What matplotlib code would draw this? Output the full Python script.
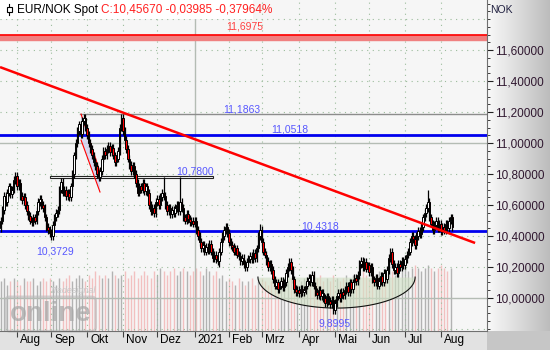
import numpy as np
import pandas as pd
import matplotlib
matplotlib.use("Agg")
import matplotlib.pyplot as plt
from matplotlib.patches import Rectangle
from matplotlib.transforms import blended_transform_factory, ScaledTranslation

plt.rcParams["font.family"] = ["Liberation Sans", "DejaVu Sans"]

# daily closes EUR/NOK
closes = [
    10.50, 10.57, 10.66, 10.62, 10.68, 10.72, 10.67,
    10.70, 10.76, 10.79, 10.72, 10.74,
    10.66, 10.63, 10.65, 10.60,
    10.56, 10.53, 10.50, 10.49, 10.52, 10.50,
    10.56, 10.62, 10.64, 10.60,
    10.58, 10.52, 10.46, 10.44,
    10.42, 10.40,
    10.47, 10.52, 10.55, 10.57,
    10.70, 10.75,
    10.68, 10.70, 10.66, 10.68, 10.65,
    10.72, 10.80, 10.92, 11.00,
    11.08, 11.12, 11.06,
    11.14, 11.16, 11.10,
    11.05, 11.00, 10.96, 10.92, 10.88, 10.85,
    10.80, 10.78, 10.82,
    10.90, 10.95, 10.92,
    10.96, 10.98, 10.94, 10.97,
    10.92, 10.88, 10.90, 10.95,
    11.10, 11.16,
    11.08, 11.02, 10.96, 10.90,
    10.86, 10.82, 10.85, 10.80,
    10.74, 10.68, 10.72,
    10.70, 10.74, 10.69, 10.72, 10.68,
    10.60, 10.56, 10.58, 10.55,
    10.62, 10.64, 10.60,
    10.65, 10.68, 10.66,
    10.60, 10.56, 10.58, 10.54, 10.57, 10.55,
    10.58, 10.60, 10.56, 10.62, 10.58,
    10.52, 10.50, 10.54, 10.51, 10.49,
    10.50, 10.48, 10.50,
    10.44, 10.40,
    10.36, 10.32, 10.34, 10.30, 10.33, 10.31,
    10.35, 10.30, 10.26, 10.28, 10.25,
    10.24, 10.30,
    10.36, 10.40, 10.44, 10.46,
    10.42, 10.36, 10.34,
    10.33, 10.30, 10.32, 10.28,
    10.27, 10.24, 10.26, 10.22,
    10.20, 10.23, 10.25,
    10.27, 10.25, 10.29, 10.26,
    10.32, 10.40, 10.44,
    10.36, 10.30, 10.28,
    10.24, 10.20, 10.22, 10.18,
    10.12, 10.08, 10.10, 10.06,
    10.08, 10.11, 10.07, 10.10,
    10.16, 10.20, 10.23, 10.18,
    10.12, 10.06, 10.04, 10.05,
    10.03, 10.06, 10.04, 10.05,
    10.08, 10.11, 10.13, 10.10, 10.15,
    10.08, 10.04, 10.02, 10.05, 10.01, 10.03,
    10.00, 9.97, 10.01, 9.98, 9.96, 9.99,
    9.92, 9.97,
    10.01, 10.03, 10.00, 10.04, 10.02, 10.05,
    10.08, 10.04, 10.10, 10.06,
    10.10, 10.13, 10.11, 10.15,
    10.22, 10.24, 10.20, 10.23,
    10.19, 10.21, 10.17, 10.20,
    10.12, 10.10, 10.13, 10.08, 10.11,
    10.14, 10.10, 10.16, 10.12, 10.18,
    10.26, 10.30,
    10.22, 10.18, 10.20, 10.16,
    10.22, 10.20, 10.24, 10.21,
    10.25, 10.28, 10.30,
    10.36, 10.40, 10.38,
    10.34, 10.40, 10.43, 10.41,
    10.46, 10.52, 10.55, 10.58,
    10.62,
    10.52, 10.48, 10.44, 10.47,
    10.50, 10.45, 10.48, 10.43, 10.46, 10.44,
    10.48, 10.45, 10.50, 10.52, 10.4567,
]
first_open = 10.45
wick = 0.025
# notable highs / lows visible as long wicks
high_marks = {9: 10.81, 51: 11.1863, 74: 11.19, 100: 10.78, 110: 10.78, 159: 10.48, 262: 10.70}
low_marks = {31: 10.3729, 134: 10.20, 204: 9.8995}

# volume (every second session, % of panel height)
volume = [
    15, 16, 14, 15, 16, 15, 14, 16, 15, 15, 16, 14, 15, 16, 15, 16, 15, 14, 16, 15,
    16, 17, 15, 16, 17, 16, 15, 17, 16, 18, 17, 16, 17, 16, 18, 17, 16, 17, 18, 16,
    17, 18, 16, 17, 18, 17, 16, 18, 17, 19, 18, 17, 18, 19, 17, 18, 19, 18, 17, 18,
    19, 18, 17, 19, 18, 17, 18, 16, 17, 15, 16, 15, 14, 16, 15, 14, 15, 16, 14, 15,
    16, 15, 14, 15, 16, 15, 14, 16, 15, 16, 15, 14, 15, 16, 15, 16, 15, 16, 17, 15,
    16, 15, 17, 16, 15, 16, 17, 16, 17, 16, 17, 18, 17, 16, 18, 17, 18, 17, 18, 19,
    18, 17, 19, 18, 19, 18, 19, 20, 19, 18, 19, 20, 19, 18, 19, 20, 19, 18, 19,
]

resist_top, resist_bottom = 11.6975, 11.665
gray_level = 11.1863
blue_levels = [11.0518, 10.4318]
box_level = 10.78
box_range = (30.3, 130.3)
trend_x = [-0.4, 291.0]
trend_y = [11.49, 10.355]
fan_x = [49.3, 60.9]
fan_upper = [11.187, 10.813]
fan_lower = [11.019, 10.684]
saucer_center, saucer_halfwidth = 206.0, 48.2
saucer_top, saucer_depth = 10.135, 0.20
price_labels = [10.0, 10.2, 10.4, 10.6, 10.8, 11.0, 11.2, 11.4, 11.6]

n = len(closes)
dates = pd.bdate_range("2020-07-20", periods=n)
opens = [first_open] + closes[:-1]
x = np.arange(n)

fig = plt.figure(figsize=(5.5, 3.5), dpi=100, facecolor="#e2e2e2")
ax = fig.add_axes([0, 19 / 350, 487 / 550, 331 / 350])
ax.set_xlim(-0.43, 298.3)
ax.set_ylim(9.787, 11.923)

# right price panel with gradient
pan = fig.add_axes([487 / 550, 19 / 350, 63 / 550, 331 / 350])
grad = np.linspace(0.98, 0.74, 100)[None, :]
pan.imshow(np.dstack([grad, grad, grad]), aspect="auto", extent=[0, 1, 0, 1])
pan.set_xlim(0, 1)
pan.set_ylim(0, 1)
pan.set_axis_off()
corner = fig.add_axes([487 / 550, 0, 63 / 550, 19 / 350])
corner.set_facecolor("#c6c6c6")
corner.set_xticks([])
corner.set_yticks([])
for s in corner.spines.values():
    s.set_visible(False)

# grid
for lv in np.arange(9.8, 11.95, 0.2):
    if abs(lv - 10.0) < 1e-6 or abs(lv - 11.0) < 1e-6:
        ax.axhline(lv, color="#b4bcb4", lw=1.0, zorder=0)
    else:
        ax.axhline(lv, color="#9cbc9c", lw=0.8, ls=(0, (1, 4)), zorder=0)
month_names = {8: "Aug", 9: "Sep", 10: "Okt", 11: "Nov", 12: "Dez", 1: "2021", 2: "Feb",
               3: "Mrz", 4: "Apr", 5: "Mai", 6: "Jun", 7: "Jul"}
month_pos = []
month_lab = []
for i in range(1, n):
    if dates[i].month != dates[i - 1].month:
        month_pos.append(i)
        month_lab.append(month_names[dates[i].month])
for p, lab in zip(month_pos, month_lab):
    if lab == "2021":
        ax.axvline(p, color="#b4bcb4", lw=1.0, zorder=0)
    else:
        ax.axvline(p, color="#9cbc9c", lw=0.8, ls=(0, (1, 4)), zorder=0)

# volume
vax = ax.twinx()
vax.set_ylim(0, 100)
vax.set_axis_off()
vx = x[::2][:len(volume)]
vcol = ["#b2b2b2" if closes[i] >= opens[i] else "#f2c0c0" for i in vx]
vax.vlines(vx, 0, volume, colors=vcol, lw=1.0, zorder=1)
vax.set_zorder(0)
ax.set_zorder(1)
ax.patch.set_visible(False)
fig.patches.append(Rectangle((0, 19 / 350), 487 / 550, 331 / 350, transform=fig.transFigure,
                             facecolor="#f6f6f6", edgecolor="none", zorder=-5))

# watermark
ax.text(0.1, 0.115, "Tradesignal", transform=ax.transAxes, fontsize=6.5, color="#c8c8c8",
        fontstyle="italic", zorder=2)
ax.text(0.02, 0.03, "online", transform=ax.transAxes, fontsize=20, color="#a8a8a8",
        fontweight="bold", alpha=0.75, zorder=2,
        bbox=dict(boxstyle="round,pad=0.15", fc="none", ec="#b8b8b8", lw=2, alpha=0.6))

# saucer
t = np.linspace(0, np.pi, 100)
sx = saucer_center - saucer_halfwidth * np.cos(t)
sy = saucer_top - saucer_depth * np.sin(t)
ax.fill_between(sx, sy, saucer_top, color="#cfe0c4", alpha=0.6, lw=0, zorder=2)
ax.plot(sx, sy, color="#111111", lw=0.8, zorder=2)

# fan
ax.fill([fan_x[0], fan_x[1], fan_x[1], fan_x[0]],
        [fan_upper[0], fan_upper[1], fan_lower[1], fan_lower[0]],
        color="#d0d0f0", alpha=0.8, lw=0, zorder=2)
ax.plot(fan_x, fan_upper, color="#ff0000", lw=0.8, zorder=4)
ax.plot(fan_x, fan_lower, color="#ff0000", lw=0.8, zorder=4)

# levels
ax.fill_between([-1, 300], resist_bottom, resist_top, color="#f08080", zorder=2)
ax.axhline(resist_top, color="#ff0000", lw=1.2, zorder=3)
ax.plot([48.7, 300], [gray_level] * 2, color="#8c8c8c", lw=1.0, zorder=2)
for lv in blue_levels:
    ax.axhline(lv, color="#0000ee", lw=2.0, zorder=3)
ax.add_patch(Rectangle((box_range[0], box_level - 0.008), box_range[1] - box_range[0], 0.016,
                       facecolor="white", edgecolor="#222222", lw=0.8, zorder=3))

# candles
for i in range(n):
    o, c = opens[i], closes[i]
    hi = high_marks.get(i, max(o, c) + wick)
    lo = low_marks.get(i, min(o, c) - wick)
    ax.vlines(i, lo, hi, color="black", lw=0.9, zorder=5)
    body_col = "white" if c >= o else "#ff0000"
    h = max(abs(c - o), 0.004)
    ax.add_patch(Rectangle((i - 0.45, min(o, c)), 0.9, h, facecolor=body_col,
                           edgecolor="black", lw=0.7, zorder=6))

# trendline
ax.plot(trend_x, trend_y, color="#ff0000", lw=1.8, zorder=7, solid_capstyle="butt")

# level labels
lab_col = "#5858ff"
tr = blended_transform_factory(ax.transAxes, ax.transData)
ax.text(245 / 487, 11.73, "11,6975", transform=tr, color="#ff4040", fontsize=7.5, ha="center", zorder=8)
ax.text(242 / 487, 11.20, "11,1863", transform=tr, color=lab_col, fontsize=7.5, ha="center", zorder=8)
ax.text(290 / 487, 11.065, "11,0518", transform=tr, color=lab_col, fontsize=7.5, ha="center", zorder=8)
ax.text(195 / 487, 10.795, "10,7800", transform=tr, color=lab_col, fontsize=7.5, ha="center", zorder=8)
ax.text(320 / 487, 10.445, "10,4318", transform=tr, color=lab_col, fontsize=7.5, ha="center", zorder=8)
ax.text(55 / 487, 10.33, "10,3729", transform=tr, color=lab_col, fontsize=7.5, ha="center", va="top", zorder=8)
ax.text(335 / 487, 9.865, "9,8995", transform=tr, color=lab_col, fontsize=7.5, ha="center", va="top", zorder=8)

# axes cosmetics
for s in ["left", "top"]:
    ax.spines[s].set_visible(False)
ax.spines["bottom"].set_color("#707070")
ax.spines["right"].set_color("#707070")
ax.set_xticks(month_pos)
ax.set_xticklabels([])
ax.tick_params(axis="x", direction="out", length=4, color="#404040", width=0.8)
off = ScaledTranslation(3 / 100, 0, fig.dpi_scale_trans)
for p, lab in zip(month_pos, month_lab):
    ax.text(p, -0.008, lab, transform=ax.get_xaxis_transform() + off, fontsize=8.5,
            ha="left", va="top", color="black")

minor = np.round(np.arange(9.8, 11.95, 0.05), 2)
ax.yaxis.tick_right()
ax.set_yticks(price_labels)
ax.set_yticks(minor, minor=True)
ax.set_yticklabels([f"{v:.5f}".replace(".", ",") for v in price_labels], fontsize=8.5, color="#301830")
ax.tick_params(axis="y", which="major", direction="out", length=4, color="#202020", pad=2)
ax.tick_params(axis="y", which="minor", direction="out", length=2, color="#202020")
fig.text(490 / 550, 1 - 10 / 350, "NOK", fontsize=7.5, color="#202040", va="center")

# title box
fig.patches.append(Rectangle((0, 1 - 19 / 350), 253 / 550, 19 / 350, transform=fig.transFigure,
                             facecolor="white", edgecolor="none", zorder=10))
fig.lines.append(plt.Line2D([9 / 550, 9 / 550], [1 - 15 / 350, 1 - 4 / 350], transform=fig.transFigure,
                            color="black", lw=0.8, zorder=11))
fig.patches.append(Rectangle((7 / 550, 1 - 12 / 350), 5 / 550, 5 / 350, transform=fig.transFigure,
                             facecolor="white", edgecolor="black", lw=0.8, zorder=12))
t1 = fig.text(17 / 550, 1 - 10 / 350, "EUR/NOK Spot ", fontsize=8.5, color="black", va="center", zorder=13)
fig.canvas.draw()
bb = t1.get_window_extent()
fig.text(bb.x1 / fig.bbox.width, 1 - 10 / 350, "C:10,45670 -0,03985 -0,37964%", fontsize=8.5,
         color="#ff2020", va="center", zorder=13)

fig.savefig("out.png", dpi=100, facecolor=fig.get_facecolor())
